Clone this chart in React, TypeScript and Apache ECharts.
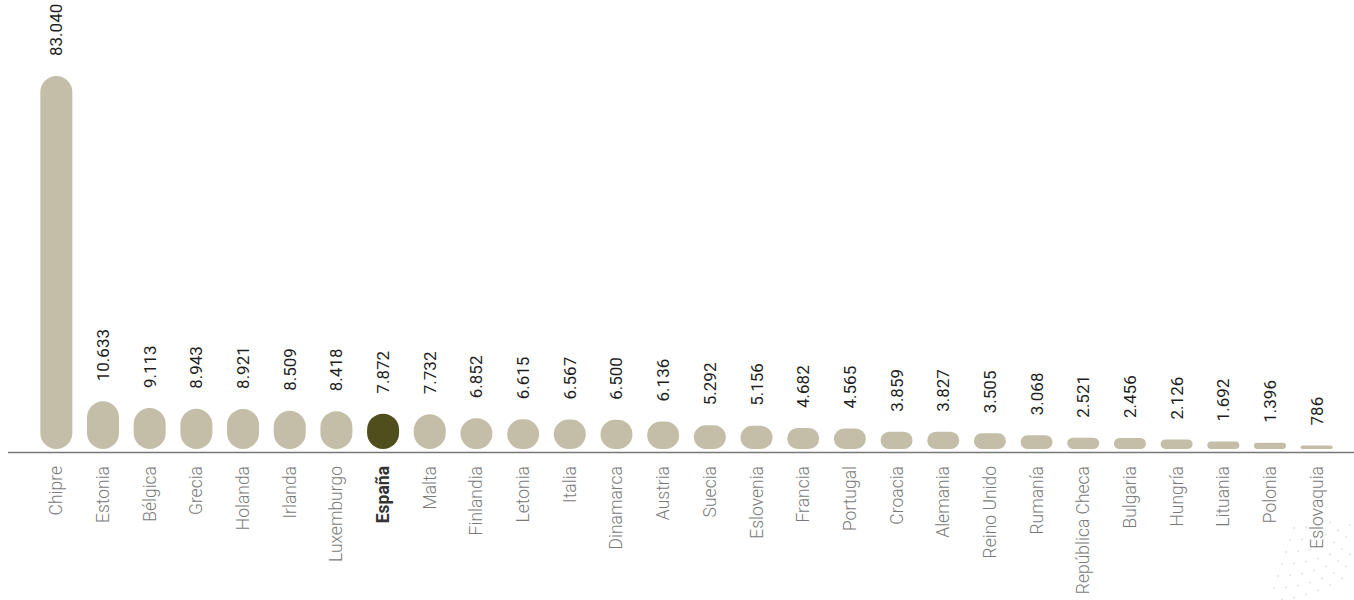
import React, { useEffect, useRef } from "react";
import * as echarts from "echarts";

const countries = [
  "Chipre", "Estonia", "Bélgica", "Grecia", "Holanda", "Irlanda", "Luxemburgo", "España",
  "Malta", "Finlandia", "Letonia", "Italia", "Dinamarca", "Austria", "Suecia", "Eslovenia",
  "Francia", "Portugal", "Croacia", "Alemania", "Reino Unido", "Rumanía", "República Checa",
  "Bulgaria", "Hungría", "Lituania", "Polonia", "Eslovaquia",
];
const values = [
  83040, 10633, 9113, 8943, 8921, 8509, 8418, 7872,
  7732, 6852, 6615, 6567, 6500, 6136, 5292, 5156,
  4682, 4565, 3859, 3827, 3505, 3068, 2521,
  2456, 2126, 1692, 1396, 786,
];
const highlight = "España";

const fmt = (v: number) => String(Math.round(v)).replace(/\B(?=(\d{3})+(?!\d))/g, ".");

export default function App() {
  const ref = useRef<HTMLDivElement>(null);
  useEffect(() => {
    document.body.style.margin = "0";
    const chart = echarts.init(ref.current!, null, { renderer: "svg" });
    const dots: any[] = [];
    for (let r = 0; r < 7; r++) {
      for (let c = 0; c < 8; c++) {
        const x = 1270 + c * 12 + r * 4;
        const y = 600 - r * 12 - (c * c) * 0.6;
        if (x < 1354 && y > 520 && y < 600) {
          dots.push({ type: "circle", shape: { cx: x, cy: y, r: 0.9 }, style: { fill: "#e2e2e2" }, silent: true });
        }
      }
    }
    chart.setOption({
      animation: false,
      grid: { left: 33, right: 14, top: 76, bottom: 151, containLabel: false },
      xAxis: {
        type: "category",
        data: countries,
        axisLine: { show: false },
        axisTick: { show: false },
        axisLabel: {
          rotate: 90,
          margin: 17,
          interval: 0,
          color: "#7a7a7a",
          fontFamily: "Roboto",
          fontWeight: 300,
          fontSize: 17.5,
          formatter: (v: string) => (v === highlight ? `{b|${v}}` : v),
          rich: {
            b: { fontWeight: 700, color: "#333333", fontFamily: "Roboto", fontSize: 17.5 },
          },
        },
      },
      yAxis: {
        type: "value",
        min: 0,
        max: 83040,
        show: false,
        splitLine: { show: false },
      },
      series: [
        {
          type: "bar",
          barWidth: 32,
          data: values.map((v, i) => ({
            value: v,
            itemStyle: { color: countries[i] === highlight ? "#4f4f1e" : "#c4bea9" },
          })),
          itemStyle: { borderRadius: 16 },
          label: {
            show: true,
            position: "top",
            rotate: 90,
            align: "left",
            verticalAlign: "middle",
            distance: 20,
            color: "#1e1e1e",
            fontFamily: "Roboto",
            fontSize: 17,
            formatter: (p: any) => fmt(p.value),
          },
        },
      ],
      graphic: [
        {
          type: "line",
          shape: { x1: 8, y1: 452.5, x2: 1354, y2: 452.5 },
          style: { stroke: "#777777", lineWidth: 1.5 },
          silent: true,
        },
        ...dots,
      ],
    });
    return () => chart.dispose();
  }, []);
  return <div ref={ref} style={{ width: 1354, height: 600 }} />;
}
